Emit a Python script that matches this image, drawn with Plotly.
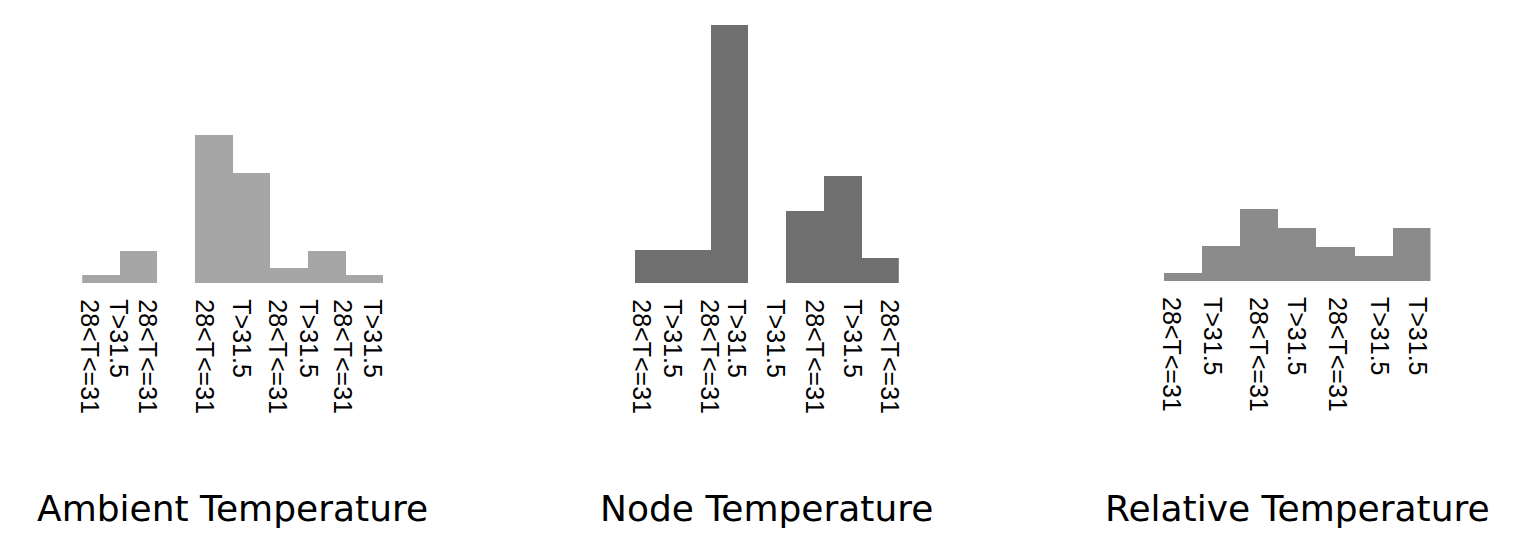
import plotly.graph_objects as go

PAGE_MARGIN = 8
W, H = 1518 - 2 * PAGE_MARGIN, 538 - 2 * PAGE_MARGIN
HSCALE = 0.9927  # observed horizontal compression of the capture about its centre

panel_titles = ["Ambient Temperature", "Node Temperature", "Relative Temperature"]

ambient_values = [8.3, 32.3, None, 148.3, 110.0, 15.5, 32.3, 8.3]
node_values = [33.0, 33.0, 258.3, None, 71.6, 106.6, 25.3]
relative_values = [8.5, 35.3, 71.7, 52.7, 33.7, 25.3, 52.7]

ambient_tick_pos = [0.175, 0.951, 1.734, 3.229, 4.217, 5.167, 5.996, 6.893, 7.700]
ambient_tick_text = ["28<T<=31", "T>31.5", "28<T<=31", "28<T<=31", "T>31.5",
                     "28<T<=31", "T>31.5", "28<T<=31", "T>31.5"]
node_tick_pos = [0.177, 1.006, 1.978, 2.696, 3.734, 4.759, 5.765, 6.745]
node_tick_text = ["28<T<=31", "T>31.5", "28<T<=31", "T>31.5", "T>31.5",
                  "28<T<=31", "T>31.5", "28<T<=31"]
relative_tick_pos = [0.184, 1.270, 2.480, 3.470, 4.559, 5.643, 6.659]
relative_tick_text = ["28<T<=31", "T>31.5", "28<T<=31", "T>31.5", "28<T<=31",
                      "T>31.5", "T>31.5"]

colors = ["#a6a6a6", "#6f6f6f", "#8b8b8b"]

panels = [
    dict(vals=ambient_values, tpos=ambient_tick_pos, ttext=ambient_tick_text,
         x0=81.7, x1=383.0, base=283.3),
    dict(vals=node_values, tpos=node_tick_pos, ttext=node_tick_text,
         x0=634.0, x1=898.3, base=283.3),
    dict(vals=relative_values, tpos=relative_tick_pos, ttext=relative_tick_text,
         x0=1163.3, x1=1430.0, base=281.0),
]
YMAX = 260.0


def px(v):
    vw = 759 + (v - 759) / HSCALE
    return (vw - PAGE_MARGIN) / W


def py(v):
    return 1 - (v - PAGE_MARGIN) / H


fig = go.Figure()
layout = dict(
    width=W, height=H, autosize=False,
    margin=dict(l=0, r=0, t=0, b=0, pad=0),
    paper_bgcolor="white", plot_bgcolor="white",
    showlegend=False, bargap=0,
    annotations=[],
)

for i, p in enumerate(panels):
    n = len(p["vals"])
    sfx = "" if i == 0 else str(i + 1)
    xs = [k + 0.5 for k in range(n)]
    fig.add_trace(go.Bar(
        x=xs, y=p["vals"], width=1.0,
        marker=dict(color=colors[i], line=dict(width=0)),
        xaxis="x" + sfx, yaxis="y" + sfx, hoverinfo="skip",
    ))
    layout["xaxis" + sfx] = dict(
        domain=[px(p["x0"]), px(p["x1"])], range=[0, n],
        anchor="y" + sfx,
        tickmode="array", tickvals=p["tpos"], ticktext=p["ttext"],
        tickangle=90, ticks="outside", ticklen=10, tickcolor="rgba(0,0,0,0)",
        tickfont=dict(family="Liberation Sans, Arial", size=25, color="black"),
        showgrid=False, zeroline=False, showline=False, fixedrange=True,
    )
    layout["yaxis" + sfx] = dict(
        domain=[py(p["base"]), py(p["base"] - YMAX)], range=[0, YMAX],
        anchor="x" + sfx, visible=False, fixedrange=True,
    )
    layout["annotations"].append(dict(
        text=panel_titles[i], xref="paper", yref="paper",
        x=px((p["x0"] + p["x1"]) / 2), y=0,
        xanchor="center", yanchor="bottom", showarrow=False, borderpad=0,
        font=dict(family="DejaVu Sans", size=36, color="black"),
    ))

fig.update_layout(**layout)
fig.write_html("out.html")
